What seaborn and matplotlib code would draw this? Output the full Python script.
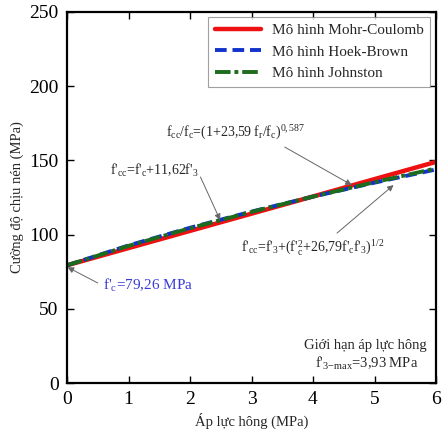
import matplotlib
matplotlib.use("Agg")
import matplotlib.pyplot as plt
import seaborn as sns

sns.set_theme(style="ticks")
plt.rcParams['font.family'] = ['Liberation Serif', 'DejaVu Serif']
plt.rcParams['mathtext.fontset'] = 'custom'
plt.rcParams['mathtext.rm'] = 'Liberation Serif'
plt.rcParams['mathtext.it'] = 'Liberation Serif'

f3 = [0, 1, 2, 3, 4, 5, 6]
mohr_coulomb = [79.3, 90.9, 102.5, 114.1, 125.7, 137.4, 149.0]
hoek_brown = [79.3, 92.7, 104.6, 115.5, 125.6, 135.0, 143.9]
johnston = [79.3, 92.4, 104.3, 115.3, 125.6, 135.3, 144.6]
labels = ["Mô hình Mohr-Coulomb", "Mô hình Hoek-Brown", "Mô hình Johnston"]
xticks = [0, 1, 2, 3, 4, 5, 6]
yticks = [0, 50, 100, 150, 200, 250]

fig = plt.figure(figsize=(4.42, 4.36), dpi=100)
ax = fig.add_axes([67/442, 53/436, 369/442, 371/436])

sns.lineplot(x=f3, y=mohr_coulomb, ax=ax, color='#ee1111', lw=3.2, label=labels[0])
sns.lineplot(x=f3, y=hoek_brown, ax=ax, color='#1133cc', lw=2.8, ls=(0, (3, 1.5)), label=labels[1])
sns.lineplot(x=f3, y=johnston, ax=ax, color='#1d6b1d', lw=2.8, ls=(0, (4, 1, 1, 1)), label=labels[2])

ax.set_xlim(0, 6)
ax.set_ylim(0, 250)
ax.set_xticks(xticks)
ax.set_yticks(yticks)
ax.tick_params(direction='in', length=5, width=1, top=True, right=True, labelsize=14, colors='black', pad=6)
for s in ax.spines.values():
    s.set_linewidth(1.6)
    s.set_color('black')
ax.set_xlabel("Áp lực hông (MPa)", fontsize=10.5, labelpad=3)
ax.set_ylabel("Cường độ chịu nén (MPa)", fontsize=10.5, labelpad=4)

leg = ax.legend(loc='upper right', fontsize=11, frameon=True, fancybox=False,
                edgecolor='#888888', handlelength=3.0, handletextpad=0.7,
                borderpad=0.45, labelspacing=0.5, borderaxespad=0,
                bbox_to_anchor=(0.985, 0.987))
leg.get_frame().set_linewidth(0.8)

arr = dict(arrowstyle='-|>', color='#666666', lw=0.7, mutation_scale=9, shrinkA=0, shrinkB=0)
# Johnston annotation
ax.text(1.61, 168.5, r"f$_{cc}$/f$_{c}$=(1+23,59 f$_{r}$/f$_{c}$)$^{0,587}$",
        fontsize=10, ha='left', va='center')
ax.annotate("", xy=(4.63, 133.4), xytext=(3.54, 159), arrowprops=arr)
# Mohr-Coulomb annotation
ax.text(1.42, 143.5, r"f'$_{cc}$=f'$_{c}$+11,62f'$_{3}$",
        fontsize=10, ha='center', va='center')
ax.annotate("", xy=(2.49, 109.8), xytext=(2.17, 138.8), arrowprops=arr)
# Hoek-Brown annotation
ax.text(3.99, 91, r"f'$_{cc}$=f'$_{3}$+(f'$^{2}_{c}$+26,79f'$_{c}$f'$_{3}$)$^{1/2}$",
        fontsize=10, ha='center', va='center')
ax.annotate("", xy=(5.31, 133.4), xytext=(4.39, 101), arrowprops=arr)
# f'c annotation
ax.text(0.58, 65.4, r"f'$_{c}$=79,26 MPa", fontsize=11, color='#3a3ad6', ha='left', va='center')
ax.annotate("", xy=(0.01, 78), xytext=(0.5, 67.4), arrowprops=arr)

ax.text(5.84, 25.6, "Giới hạn áp lực hông", fontsize=10.5, ha='right', va='center')
ax.text(5.71, 13.5, r"f'$_{3\mathrm{-max}}$=3,93 MPa", fontsize=10.5, ha='right', va='center')

fig.savefig("out.png", dpi=100)
